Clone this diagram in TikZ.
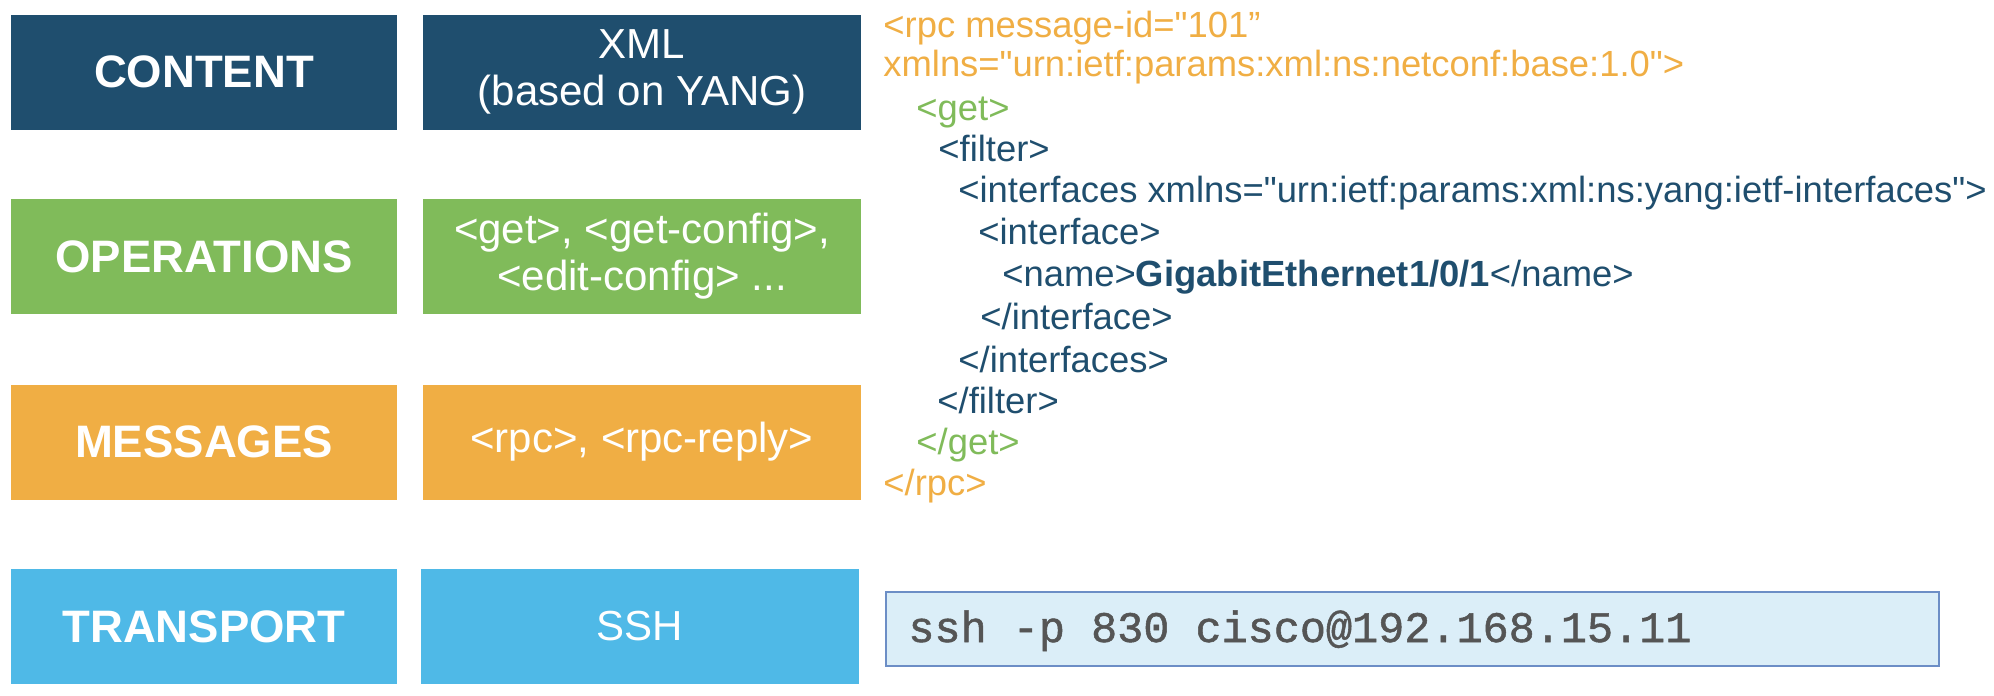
\documentclass[tikz,border=0pt]{standalone}
\usepackage{fontspec}
\setmainfont{Liberation Sans}[Ligatures=TeXOff]
\newfontfamily\cmdmono{Liberation Mono}[FakeBold=1.2]
\usetikzlibrary{positioning}

\definecolor{contentblue}{HTML}{1F4E6E}
\definecolor{opgreen}{HTML}{80BB5A}
\definecolor{msgorange}{HTML}{F0AE44}
\definecolor{transblue}{HTML}{4FB9E7}
\definecolor{cmdfill}{HTML}{DBEEF8}
\definecolor{cmdedge}{HTML}{6C8EC6}
\definecolor{cmdgray}{HTML}{555555}

\newcommand\layerfont{\fontsize{22.75}{27}\selectfont\bfseries}
\newcommand\itemfont{\fontsize{21}{23.5}\selectfont}
\newcommand\xmlfont{\fontsize{18.2}{21}\selectfont}

\tikzset{
  layer/.style={minimum width=193pt, minimum height=57.5pt, inner sep=0pt, text=white, font=\layerfont},
  detail/.style={minimum width=219pt, minimum height=57.5pt, inner sep=0pt, text=white, font=\itemfont, align=center},
  xmlline/.style={anchor=base west, inner sep=0pt, font=\xmlfont},
}

\begin{document}
\begin{tikzpicture}[x=0.5pt, y=-0.5pt]
\useasboundingbox (0,0) rectangle (1994,696);

% layers
\node[layer, fill=contentblue] (content) at (204,72) {CONTENT};
\node[layer, fill=opgreen] (operations) at (204,256.5) {OPERATIONS};
\node[layer, fill=msgorange] (messages) at (204,442) {MESSAGES};
\node[layer, fill=transblue] (transport) at (204,626.5) {TRANSPORT};

% what each layer carries
\node[detail, fill=contentblue] (xmlbox) at (642,72) {XML\\(based on YANG)};
\node[detail, fill=opgreen] (opsbox) at (642,256.5) {<get>, <get-config>,\\<edit-config> ...};
\node[detail, fill=msgorange] (rpcbox) at (642,442) {<rpc>, <rpc-reply>};
\node[detail, fill=transblue] (sshbox) at (640,626.5) {SSH};

% xml request
\node[xmlline, text=msgorange] (rpcopen) at (883,38) {<rpc message-id="101”};
\node[xmlline, text=msgorange] (rpcns) at (883,76) {xmlns="urn:ietf:params:xml:ns:netconf:base:1.0">};
\node[xmlline, text=opgreen] (getopen) at (916,120) {<get>};
\node[xmlline, text=contentblue] (filteropen) at (938,161) {<filter>};
\node[xmlline, text=contentblue] (ifsopen) at (958,202) {<interfaces xmlns="urn:ietf:params:xml:ns:yang:ietf-interfaces">};
\node[xmlline, text=contentblue] (ifopen) at (978,244) {<interface>};
\node[xmlline, text=contentblue] (nameline) at (1002,286) {<name>\textbf{GigabitEthernet1/0/1}</name>};
\node[xmlline, text=contentblue] (ifclose) at (980,329) {</interface>};
\node[xmlline, text=contentblue] (ifsclose) at (958,372) {</interfaces>};
\node[xmlline, text=contentblue] (filterclose) at (937,413) {</filter>};
\node[xmlline, text=opgreen] (getclose) at (916,454) {</get>};
\node[xmlline, text=msgorange] (rpcclose) at (883,495) {</rpc>};

% ssh command
\node[draw=cmdedge, line width=1pt, fill=cmdfill, minimum width=526.5pt, minimum height=37pt, inner sep=0pt] (cmdbox) at (1412.5,629) {};
\node[anchor=base west, inner sep=0pt, text=cmdgray, font=\cmdmono\fontsize{21.75}{24}\selectfont] (cmdtext) at (908,642) {ssh -p 830 cisco@192.168.15.11};

\end{tikzpicture}
\end{document}
